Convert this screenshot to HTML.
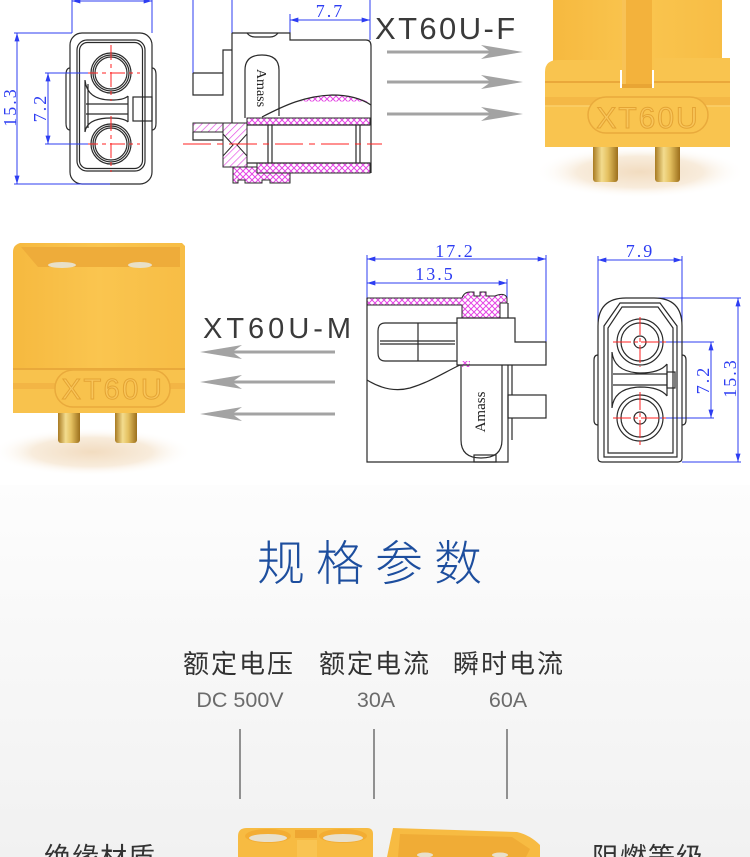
<!DOCTYPE html>
<html><head><meta charset="utf-8">
<style>
html,body{margin:0;padding:0;background:#fff;}
svg{display:block;}
.cn{font-family:"Liberation Sans","Noto Sans CJK SC",sans-serif;}
.dim{font-family:"Liberation Serif","DejaVu Serif",serif;fill:#2d3df2;font-size:18px;}
</style></head><body>
<svg width="750" height="857" viewBox="0 0 750 857" xmlns="http://www.w3.org/2000/svg">
<defs>
 <linearGradient id="bg" x1="0" y1="0" x2="0" y2="1">
  <stop offset="0" stop-color="#fdfdfd"/><stop offset="1" stop-color="#f1f1f1"/>
 </linearGradient>
 <pattern id="xh" width="6" height="6" patternUnits="userSpaceOnUse"><rect width="6" height="6" fill="#fff"/><path d="M0,0L6,6M6,0L0,6" stroke="#e445e4" stroke-width="1"/></pattern>
 <pattern id="dh" width="5" height="5" patternUnits="userSpaceOnUse" patternTransform="rotate(45)"><rect width="5" height="5" fill="#fff"/><line x1="0" y1="0" x2="0" y2="5" stroke="#e445e4" stroke-width="1.3"/></pattern>
 <marker id="ab" viewBox="0 0 10 6" refX="10" refY="3" markerWidth="9" markerHeight="5" markerUnits="userSpaceOnUse" orient="auto-start-reverse"><path d="M0,0L10,3L0,6z" fill="#2d3df2"/></marker>
 <linearGradient id="gold" x1="0" y1="0" x2="1" y2="0">
  <stop offset="0" stop-color="#a87a22"/><stop offset="0.35" stop-color="#f3dc8e"/><stop offset="0.6" stop-color="#e4c060"/><stop offset="1" stop-color="#9c6f1c"/>
 </linearGradient>
 <radialGradient id="sh" cx="0.5" cy="0.5" r="0.5">
  <stop offset="0" stop-color="#f2dcc0"/><stop offset="0.6" stop-color="#f8ecdc"/><stop offset="1" stop-color="#fff" stop-opacity="0"/>
 </radialGradient>
 <linearGradient id="yb" x1="0" y1="0" x2="1" y2="0">
  <stop offset="0" stop-color="#f6b93f"/><stop offset="0.5" stop-color="#fac54f"/><stop offset="1" stop-color="#f7bd45"/>
 </linearGradient>
</defs>

<!-- bottom background -->
<rect x="0" y="485" width="750" height="372" fill="url(#bg)"/>

<!-- ============ Drawing 1 (top-left) ============ -->
<g fill="none" stroke="#2a2a2a" stroke-width="1.2">
 <rect x="70" y="33" width="82" height="151" rx="12"/>
 <path d="M70,68 Q66,68 66,75 V123 Q66,130 70,130 M152,68 Q156,68 156,75 V123 Q156,130 152,130"/>
 <rect x="77" y="40" width="68" height="131" rx="10"/>
 <rect x="79.5" y="42.5" width="63" height="126" rx="8"/>
 <circle cx="111" cy="73" r="20"/><circle cx="111" cy="73" r="18"/><circle cx="111" cy="73" r="16"/>
 <circle cx="111" cy="144" r="20"/><circle cx="111" cy="144" r="18"/><circle cx="111" cy="144" r="16"/>
 <path d="M85,80 Q87,100 111,100 Q124,100 128,96 M85,132 Q87,118 111,118 Q124,118 128,122 M85,80 V132 M88,84 V128 M128,96 V122 M86,104 H128 M86,114 H128"/>
 <rect x="133" y="97" width="19" height="24"/>
</g>
<g stroke="#ff2020" stroke-width="1" fill="none" stroke-dasharray="15 4 4 4">
 <path d="M83,73 H140 M111,45 V101 M83,144 H140 M111,116 V172"/>
</g>
<g stroke="#2d3df2" stroke-width="1" fill="none">
 <path d="M72,0 V33 M152,0 V33 M14,33 H72 M14,184 H110 M45,73 H88 M45,144 H88"/>
 <line x1="72" y1="1" x2="152" y2="1" marker-start="url(#ab)" marker-end="url(#ab)"/>
 <line x1="17" y1="33" x2="17" y2="184" marker-start="url(#ab)" marker-end="url(#ab)"/>
 <line x1="48" y1="73" x2="48" y2="144" marker-start="url(#ab)" marker-end="url(#ab)"/>
</g>
<text class="dim" transform="translate(16,107) rotate(-90)" text-anchor="middle" letter-spacing="2">15.3</text>
<text class="dim" transform="translate(46,108) rotate(-90)" text-anchor="middle" letter-spacing="2">7.2</text>

<!-- ============ Drawing 2 (top-middle) ============ -->
<g stroke="#2d3df2" stroke-width="1" fill="none">
 <path d="M193,0 V73 M232,0 V33 M290,14 V33 M370,0 V40"/>
 <line x1="290" y1="20" x2="370" y2="20" marker-start="url(#ab)" marker-end="url(#ab)"/>
</g>
<text class="dim" x="330" y="17" text-anchor="middle" letter-spacing="2">7.7</text>
<!-- hatched parts -->
<path d="M300,101.5 Q335,88 368,101.5 Z" fill="url(#xh)"/>
<rect x="247" y="118" width="123" height="7" fill="url(#xh)" stroke="#2a2a2a" stroke-width="1"/>
<rect x="193" y="123" width="54" height="9" fill="url(#dh)" stroke="#2a2a2a" stroke-width="1"/>
<rect x="223" y="123" width="24" height="44" fill="url(#dh)" stroke="#2a2a2a" stroke-width="1"/>
<path d="M223,134 L233,145 L223,156 Z M247,134 L237,145 L247,156 Z" fill="#fff" stroke="#2a2a2a" stroke-width="1"/>
<rect x="257" y="163" width="113" height="10" fill="url(#xh)" stroke="#2a2a2a" stroke-width="1"/>
<path d="M233,167 H257 V173 H290 V183 H270 V180 H262 V183 H245 V180 H238 V183 H233 Z" fill="url(#xh)" stroke="#2a2a2a" stroke-width="1"/>
<g fill="none" stroke="#2a2a2a" stroke-width="1.2">
 <path d="M193,73 V95 H223 V50 H232 M193,73 H223"/>
 <path d="M193,132 V140 H223"/>
 <path d="M232,33 V123 M232,33 H290 V40 H366 Q371,40 371,46 V173"/>
 <path d="M247,33 Q250,37 255,37 H270 Q275,37 278,33"/>
 <path d="M245,118 V70 Q245,55 262,55 Q279,55 279,70 V116"/>
 <path d="M262,117 C285,105 305,96 332,95 C350,95 362,99 371,105"/>
 <path d="M247,125 H370 M247,163 H370 M268,125 V163 M272,125 V163 M356,125 V163 M360,125 V163"/>
</g>
<text transform="translate(257,88) rotate(90)" text-anchor="middle" font-family="Liberation Serif,serif" font-size="14" fill="#222">Amass</text>
<path d="M183,144 H382" stroke="#ff2020" stroke-width="1" stroke-dasharray="28 6 6 6"/>

<!-- ============ XT60U-F label & arrows ============ -->
<text x="375" y="39" font-family="Liberation Sans,sans-serif" font-size="31" letter-spacing="2.4" fill="#3a3a3a">XT60U-F</text>
<g fill="#a3a3a3">
 <rect x="387" y="50.5" width="104" height="3"/><path d="M523,52 L481,45 L491,52 L481,59 Z"/>
 <rect x="387" y="80.5" width="104" height="3"/><path d="M523,82 L481,75 L491,82 L481,89 Z"/>
 <rect x="387" y="112.5" width="104" height="3"/><path d="M523,114 L481,107 L491,114 L481,121 Z"/>
</g>

<!-- ============ F connector photo ============ -->
<ellipse cx="640" cy="172" rx="105" ry="26" fill="url(#sh)"/>
<rect x="593" y="140" width="25" height="42" rx="3" fill="url(#gold)"/>
<rect x="655" y="140" width="25" height="42" rx="3" fill="url(#gold)"/>
<rect x="553" y="0" width="169" height="70" fill="url(#yb)"/>
<rect x="622" y="0" width="30" height="90" fill="#f3b23c"/>
<rect x="622" y="0" width="4" height="90" fill="#f8c256"/>
<rect x="622" y="84" width="30" height="6" fill="#e9a534"/>
<path d="M545,72 Q545,60 558,60 H620 V88 H654 V58 H730 V147 H545 Z" fill="#f9c44f"/>
<path d="M545,82 H620 M654,82 H730" stroke="#eaa83a" stroke-width="2" fill="none"/>
<rect x="545" y="97" width="185" height="9" fill="#f4b846"/>
<path d="M545,106 H730" stroke="#fbd06a" stroke-width="1.5"/>
<rect x="588" y="97" width="120" height="36" rx="18" fill="#f9c44f" stroke="#e9aa3c" stroke-width="1.5"/>
<text x="648" y="128" text-anchor="middle" font-family="Liberation Sans,sans-serif" font-size="30" letter-spacing="2" fill="#f8c55a" stroke="#e4a434" stroke-width="1">XT60U</text>

<!-- ============ M connector photo ============ -->
<ellipse cx="92" cy="452" rx="100" ry="24" fill="url(#sh)"/>
<rect x="58" y="405" width="22" height="38" rx="3" fill="url(#gold)"/>
<rect x="115" y="405" width="22" height="38" rx="3" fill="url(#gold)"/>
<path d="M20,243 H182 L185,246 V413 H13 V252 Q13,245 20,243 Z" fill="url(#yb)"/>
<path d="M21,247 H180 V267 H38 Z" fill="#eeac3a"/>
<ellipse cx="62" cy="265" rx="14" ry="3" fill="#e8e0c8"/>
<ellipse cx="140" cy="265" rx="12" ry="3" fill="#e8e0c8"/>
<path d="M13,368 H185 V413 H13 Z" fill="#f8c24d"/>
<path d="M13,369 H185" stroke="#e9a93b" stroke-width="2"/>
<rect x="13" y="383" width="172" height="6" fill="#f3b545"/>
<rect x="55" y="370" width="115" height="37" rx="18" fill="#f8c24d" stroke="#e9aa3c" stroke-width="1.5"/>
<text x="113" y="399" text-anchor="middle" font-family="Liberation Sans,sans-serif" font-size="29" letter-spacing="2.5" fill="#f8c55a" stroke="#e4a434" stroke-width="1">XT60U</text>

<!-- ============ XT60U-M label & arrows ============ -->
<text x="203" y="338" font-family="Liberation Sans,sans-serif" font-size="29" letter-spacing="4" fill="#3a3a3a">XT60U-M</text>
<g fill="#a3a3a3">
 <rect x="232" y="350.5" width="103" height="3"/><path d="M200,352 L242,345 L232,352 L242,359 Z"/>
 <rect x="232" y="380.5" width="103" height="3"/><path d="M200,382 L242,375 L232,382 L242,389 Z"/>
 <rect x="232" y="412.5" width="103" height="3"/><path d="M200,414 L242,407 L232,414 L242,421 Z"/>
</g>

<!-- ============ Drawing 4 (middle) ============ -->
<g stroke="#2d3df2" stroke-width="1" fill="none">
 <path d="M367,255 V298 M546,255 V342 M507,279 V298"/>
 <line x1="367" y1="259" x2="546" y2="259" marker-start="url(#ab)" marker-end="url(#ab)"/>
 <line x1="367" y1="283" x2="507" y2="283" marker-start="url(#ab)" marker-end="url(#ab)"/>
</g>
<text class="dim" x="455" y="257" text-anchor="middle" letter-spacing="2">17.2</text>
<text class="dim" x="435" y="280" text-anchor="middle" letter-spacing="2">13.5</text>
<path d="M367,298 H462 Q464,292 470,292 H474 V296 H480 V292 H486 V296 H495 Q505,292 507,298 V303 H500 V318 H462 V305 H367 Z" fill="url(#xh)" stroke="#2a2a2a" stroke-width="1"/>
<path d="M462,361 H470 V367 H462 Z" fill="url(#xh)"/>
<g fill="none" stroke="#2a2a2a" stroke-width="1.2">
 <path d="M367,298 V462 H508 V365"/>
 <path d="M508,303 V318"/>
 <path d="M457,318 H515 V342 H546 V365 H457 Z"/>
 <path d="M457,323 H385 Q378,323 378,331 V353 Q378,361 385,361 H457 M380,341 H455 M380,344 H455 M418,323 V361"/>
 <path d="M367,380 C380,388 395,392 410,388 C430,382 445,372 460,365"/>
 <path d="M461,365 V440 Q461,458 481,458 Q502,458 502,440 V365"/>
 <rect x="508" y="395" width="38" height="23"/>
 <path d="M512,365 V395 M512,418 V440"/>
 <rect x="474" y="455" width="22" height="7"/>
</g>
<text transform="translate(485,412) rotate(-90)" text-anchor="middle" font-family="Liberation Serif,serif" font-size="15" fill="#222">Amass</text>

<!-- ============ Drawing 5 (right) ============ -->
<g stroke="#2d3df2" stroke-width="1" fill="none">
 <path d="M598,256 V325 M682,256 V332 M660,342 H714 M660,418 H714 M640,298 H741 M682,462 H741"/>
 <line x1="598" y1="260" x2="682" y2="260" marker-start="url(#ab)" marker-end="url(#ab)"/>
 <line x1="711" y1="342" x2="711" y2="418" marker-start="url(#ab)" marker-end="url(#ab)"/>
 <line x1="738" y1="298" x2="738" y2="462" marker-start="url(#ab)" marker-end="url(#ab)"/>
</g>
<text class="dim" x="640" y="257" text-anchor="middle" letter-spacing="2">7.9</text>
<text class="dim" transform="translate(709,380) rotate(-90)" text-anchor="middle" letter-spacing="2">7.2</text>
<text class="dim" transform="translate(736,378) rotate(-90)" text-anchor="middle" letter-spacing="2">15.3</text>
<g fill="none" stroke="#2a2a2a" stroke-width="1.2">
 <path d="M598,458 V326 Q598,298 626,298 H654 Q682,298 682,326 V458 Q682,462 678,462 H602 Q598,462 598,458 Z"/>
 <path d="M598,355 Q594,355 594,360 V420 Q594,425 598,425 M682,355 Q686,355 686,360 V420 Q686,425 682,425"/>
 <path d="M604,457 V326 L620,303 H660 L677,326 V457 Z"/>
 <path d="M608,453 V328 L622,307 H658 L673,328 V453 Z"/>
 <circle cx="640" cy="342" r="23"/><circle cx="640" cy="342" r="19"/><circle cx="640" cy="342" r="6"/>
 <circle cx="640" cy="418" r="23"/><circle cx="640" cy="418" r="19"/><circle cx="640" cy="418" r="6"/>
 <path d="M612,352 Q614,372 640,373 Q660,373 667,364 M612,408 Q614,388 640,387 Q660,387 667,396 M612,352 V408 M667,364 V396 M613,374 H667 M613,385 H667"/>
 <rect x="667" y="372" width="8" height="16"/>
</g>
<g stroke="#ff2020" stroke-width="1" fill="none" stroke-dasharray="18 3 4 3">
 <path d="M613,342 H667 M640,317 V367 M613,418 H667 M640,392 V445"/>
</g>

<!-- ============ Spec section ============ -->
<text class="cn" x="257" y="580" font-size="48" letter-spacing="11" fill="#1d4e9e" font-weight="300">规格参数</text>

<text class="cn" x="239" y="673" text-anchor="middle" font-size="26" letter-spacing="2" fill="#333">额定电压</text>
<text class="cn" x="375" y="673" text-anchor="middle" font-size="26" letter-spacing="2" fill="#333">额定电流</text>
<text class="cn" x="509" y="673" text-anchor="middle" font-size="26" letter-spacing="2" fill="#333">瞬时电流</text>

<text x="240" y="707" text-anchor="middle" font-family="Liberation Sans,sans-serif" font-size="21.5" fill="#6b6b6b">DC 500V</text>
<text x="376" y="707" text-anchor="middle" font-family="Liberation Sans,sans-serif" font-size="21.5" fill="#6b6b6b">30A</text>
<text x="508" y="707" text-anchor="middle" font-family="Liberation Sans,sans-serif" font-size="21.5" fill="#6b6b6b">60A</text>

<g stroke="#5a5a5a" stroke-width="1.3">
 <line x1="240" y1="729" x2="240" y2="799"/>
 <line x1="374" y1="729" x2="374" y2="799"/>
 <line x1="507" y1="729" x2="507" y2="799"/>
</g>

<text class="cn" x="44" y="867" font-size="27" letter-spacing="1" fill="#333">绝缘材质</text>
<text class="cn" x="592" y="867" font-size="27" letter-spacing="1" fill="#333">阻燃等级</text>

<!-- bottom connector pieces -->
<path d="M238,857 V836 Q238,828 247,828 H367 Q373,828 373,834 V857 Z" fill="#f7bb42"/>
<ellipse cx="268" cy="836" rx="23" ry="7" fill="#f3ad33"/>
<ellipse cx="268" cy="838" rx="19" ry="4" fill="#e8e0cc"/>
<ellipse cx="343" cy="836" rx="24" ry="7" fill="#f3ad33"/>
<ellipse cx="343" cy="838" rx="20" ry="4" fill="#e8e0cc"/>
<rect x="295" y="830" width="22" height="8" fill="#eea632"/>
<rect x="297" y="840" width="20" height="17" fill="#f9c452"/>
<path d="M387,857 L393,828 L517,832 Q530,835 540,845 V857 Z" fill="#f7bb42"/>
<path d="M398,857 L400,834 L512,837 L530,849 L526,857 Z" fill="#f0ac36"/>
<ellipse cx="425" cy="855" rx="8" ry="2.5" fill="#e8e0cc"/>
<ellipse cx="500" cy="855" rx="8" ry="2.5" fill="#e8e0cc"/>
</svg>
</body></html>
